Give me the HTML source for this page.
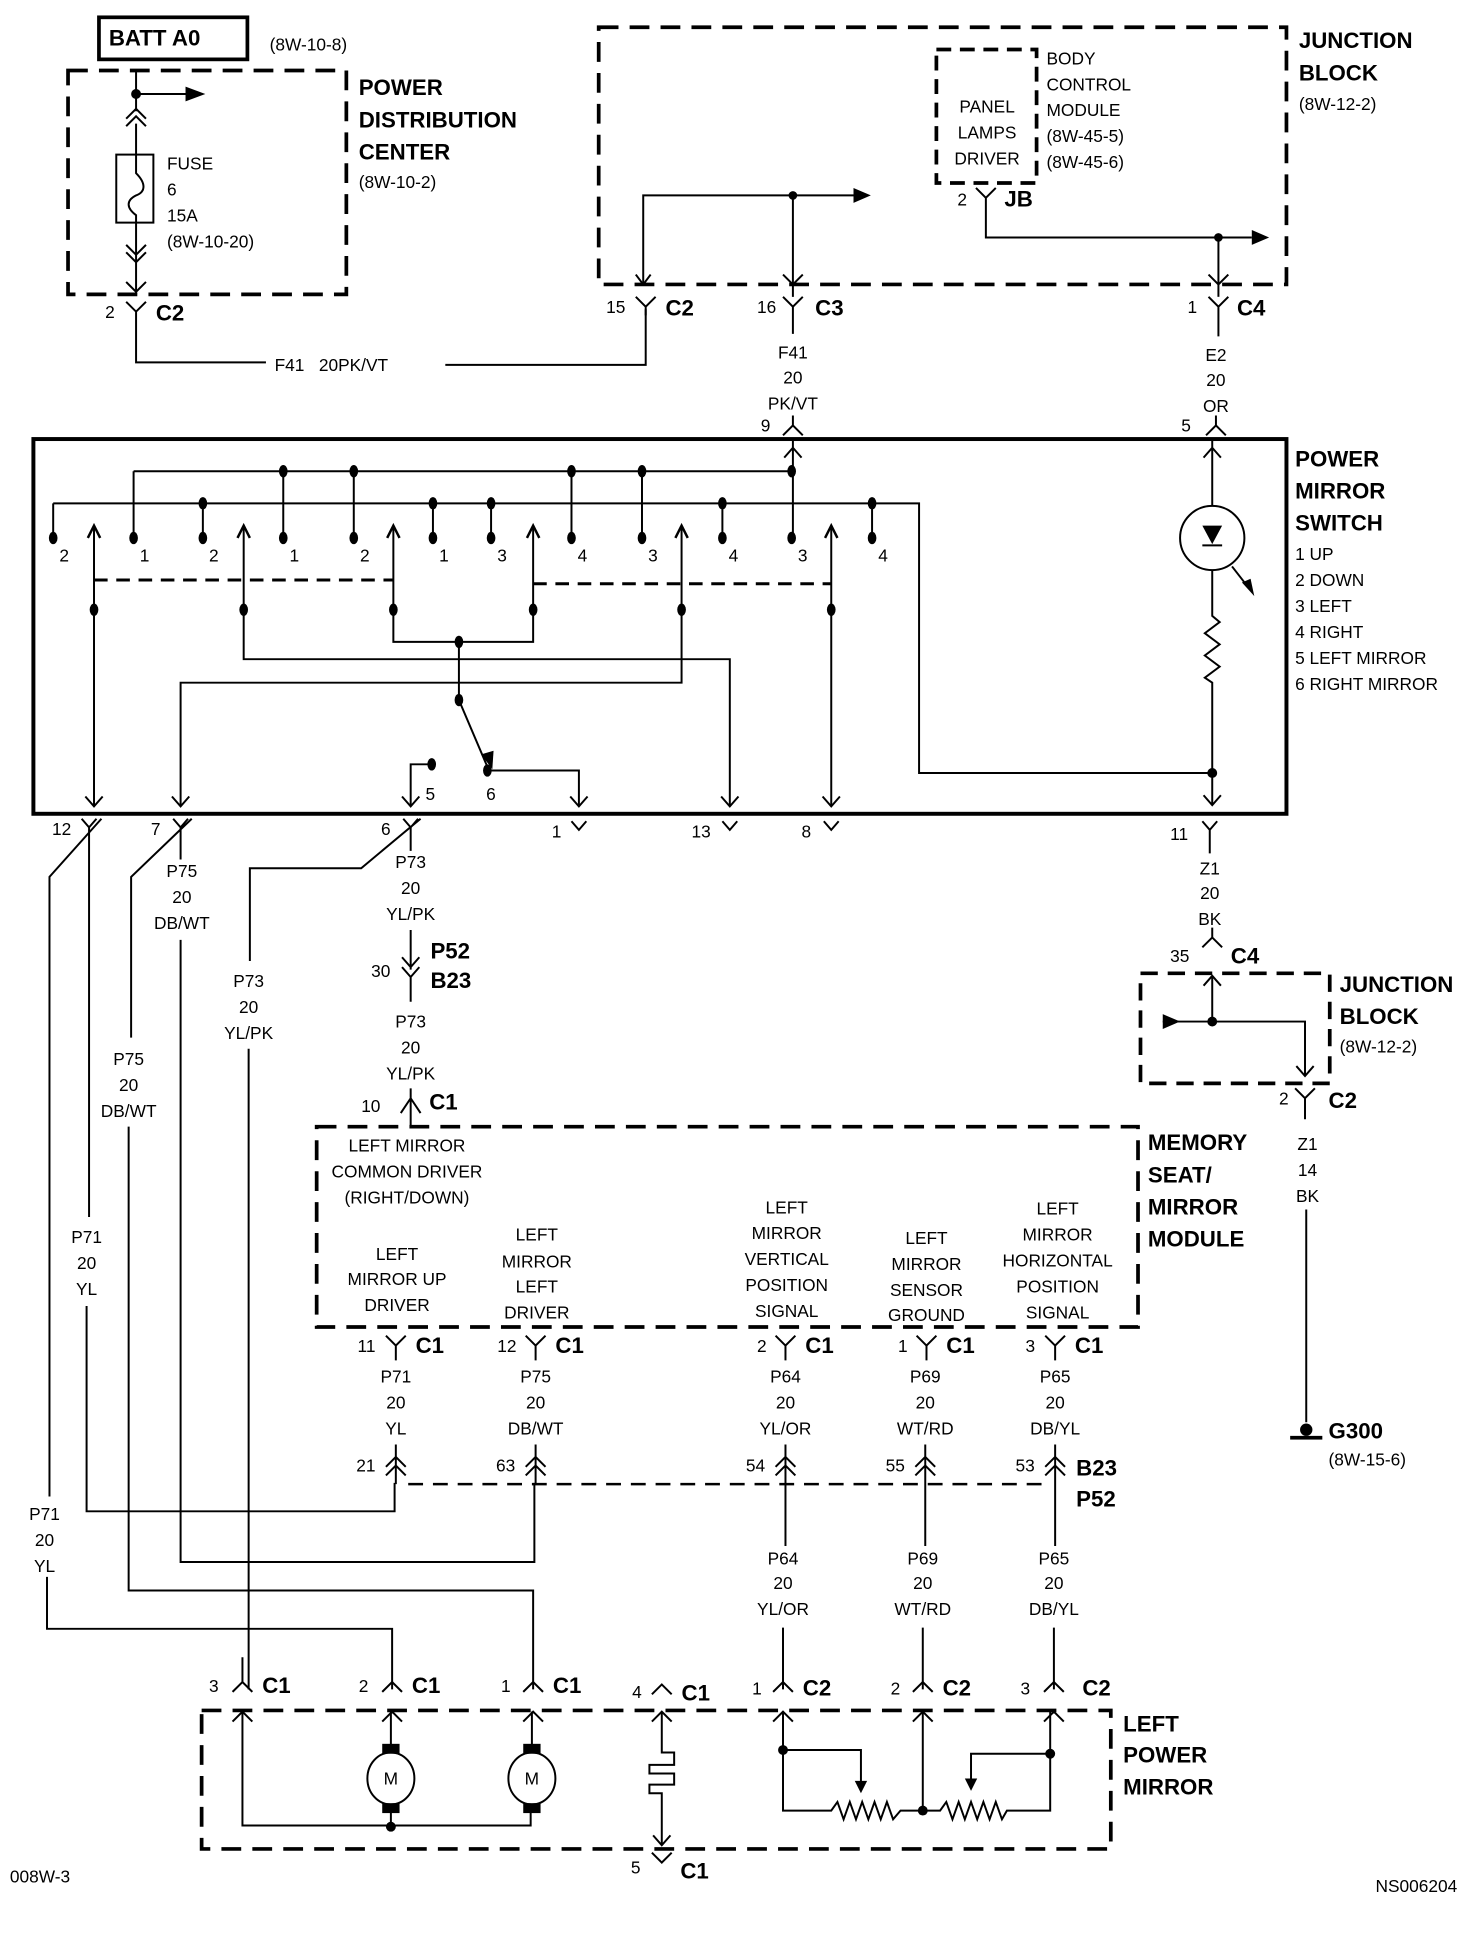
<!DOCTYPE html>
<html><head><meta charset="utf-8"><style>
html,body{margin:0;padding:0;background:#fff}
svg{display:block}
text{font-family:"Liberation Sans Narrow","Liberation Sans",sans-serif;fill:#000}
.n{font-size:15px}
.s{font-size:14px}
.b{font-size:18px;font-weight:bold}
.c{text-anchor:middle}
</style></head><body>
<svg width="1472" height="1938" viewBox="0 0 1190 1567" preserveAspectRatio="none" xmlns="http://www.w3.org/2000/svg">
<g fill="none" stroke="#000" stroke-width="1.6">
<rect x="80" y="14" width="120" height="34" stroke-width="3"/>
<rect x="55" y="57" width="225" height="181" stroke-width="3" stroke-dasharray="16 9"/>
<path d="M110 57 V90 M110 100 V125 M110 180 V238 M110 76 H152"/>
<path d="M102 96 L110 88 L118 96 M102 102 L110 94 L118 102"/>
<rect x="94" y="125" width="30" height="55"/>
<path d="M110 125 V140 C118 148 118 155 110 158 C102 162 102 168 110 174 V180"/>
<path d="M102 198 L110 206 L118 198 M102 204 L110 212 L118 204 M102 228 L110 236 L118 228"/>
<path d="M102 244 L110 252 L118 244 M110 252 V293 H215 M360 295 H522 V250"/>
<rect x="484" y="22" width="556" height="208" stroke-width="3" stroke-dasharray="16 9"/>
<rect x="757" y="40" width="81" height="108" stroke-width="3" stroke-dasharray="12 7"/>
<path d="M789 152 L797 160 L805 152 M797 160 V192 H1012"/>
<path d="M520 230 V158 H690 M641 158 V240"/>
<path d="M985 192 V240"/>
<path d="M514 222 L520 230 L526 222 M633 222 L641 230 L649 222 M977 222 L985 230 L993 222"/>
<path d="M514 240 L522 248 L530 240 M522 248 V255"/>
<path d="M633 240 L641 248 L649 240 M641 248 V270"/>
<path d="M977 240 L985 248 L993 240 M985 248 V272"/>
<path d="M633 352 L641 344 L649 352 M641 344 V336"/>
<path d="M975 352 L983 344 L991 352 M983 344 V336"/>
<rect x="27" y="355" width="1013" height="303" stroke-width="3.2"/>
<path d="M641 355 V435 M634 370 L641 362 L648 370"/>
<path d="M980 355 V409 M973 370 L980 362 L987 370"/>
<circle cx="980" cy="435" r="26"/>
<path d="M972 441 H988 M980 461 V498 L986 503 L974 512 L986 521 L974 530 L986 539 L974 548 L980 552 V650 M973 643 L980 651 L987 643"/>
<path d="M996 458 L1010 476"/>
<path d="M108 381 H640 M43 407 H743 V625 H980"/>
<path d="M108 381 V435 M229 381 V435 M286 381 V435 M462 381 V435 M519 381 V435"/>
<path d="M43 407 V435 M164 407 V435 M350 407 V435 M397 407 V435 M584 407 V435 M705 407 V435"/>
<path d="M76 426 V652 M197 426 V533 H590 V652 M318 426 V519 H431 V426 M371 519 V566 L394 620 M394 623 H468 V652 M349 618 H332 V652 M551 426 V552 H146 V652 M672 426 V652"/>
<path d="M71 435 L76 425 L81 435 M192 435 L197 425 L202 435 M313 435 L318 425 L323 435 M426 435 L431 425 L436 435 M546 435 L551 425 L556 435 M667 435 L672 425 L677 435" stroke-width="2"/>
<path d="M76 469 H318 M431 472 H672" stroke-width="2.4" stroke-dasharray="11 7"/>
<path d="M69 644 L76 652 L83 644 M139 644 L146 652 L153 644 M325 644 L332 652 L339 644 M461 644 L468 652 L475 644 M583 644 L590 652 L597 644 M665 644 L672 652 L679 644"/>
<path d="M66 662 L72 669 L78 662 M72 669 V984 M82 662 L40 709 V1210 M38 1275 V1317 H317 V1366"/>
<path d="M140 662 L146 669 L152 662 M146 669 V695 M146 760 V1263 H432 V1199 M155 662 L106 709 V839 M104 911 V1286 H431 V1366"/>
<path d="M326 662 L332 669 L338 662 M332 669 V688 M340 662 L292 702 H202 V777 M201 848 V1366"/>
<path d="M462 664 L468 671 L474 664 M584 664 L590 671 L596 664 M666 664 L672 671 L678 664"/>
<path d="M972 664 L978 671 L984 664 M978 671 V690"/>
<path d="M70 1056 V1222 H319 V1199"/>
<path d="M332 752 V784 M325 774 L332 782 L339 774 M325 782 L332 790 L339 782 M332 790 V810"/>
<path d="M332 880 V888 M324 900 L332 888 L340 900 M332 888 V911"/>
<rect x="256" y="911" width="664" height="162" stroke-width="3" stroke-dasharray="16 9"/>
<path d="M312 1080 L320 1088 L328 1080 M320 1088 V1100 M425 1080 L433 1088 L441 1080 M433 1088 V1100 M627 1080 L635 1088 L643 1080 M635 1088 V1100 M741 1080 L749 1088 L757 1080 M749 1088 V1100 M845 1080 L853 1088 L861 1080 M853 1088 V1100"/>
<path d="M320 1168 V1200 M312 1186 L320 1178 L328 1186 M312 1193 L320 1185 L328 1193"/>
<path d="M433 1168 V1200 M425 1186 L433 1178 L441 1186 M425 1193 L433 1185 L441 1193"/>
<path d="M635 1168 V1200 M627 1186 L635 1178 L643 1186 M627 1193 L635 1185 L643 1193 M635 1200 V1250"/>
<path d="M748 1168 V1200 M740 1186 L748 1178 L756 1186 M740 1193 L748 1185 L756 1193 M748 1200 V1250"/>
<path d="M853 1168 V1200 M845 1186 L853 1178 L861 1186 M845 1193 L853 1185 L861 1193 M853 1200 V1250"/>
<path d="M330 1200 H850" stroke-width="2" stroke-dasharray="12 8"/>
<path d="M633 1316 V1366 M746 1316 V1366 M852 1316 V1366"/>
<rect x="163" y="1383" width="735" height="112" stroke-width="3" stroke-dasharray="16 9"/>
<path d="M188 1368 L196 1360 L204 1368 M196 1360 V1340 M309 1368 L317 1360 L325 1368 M423 1368 L431 1360 L439 1368 M527 1370 L535 1362 L543 1370 M625 1368 L633 1360 L641 1368 M738 1368 L746 1360 L754 1368 M844 1368 L852 1360 L860 1368"/>
<path d="M188 1392 L196 1384 L204 1392 M309 1392 L317 1384 L325 1392 M423 1392 L431 1384 L439 1392 M527 1392 L535 1384 L543 1392 M625 1392 L633 1384 L641 1392 M738 1392 L746 1384 L754 1392 M844 1392 L852 1384 L860 1392"/>
<path d="M196 1384 V1476 H429 V1464 M316 1384 V1412 M316 1464 V1476 M430 1384 V1412"/>
<ellipse cx="316" cy="1438" rx="19" ry="21"/>
<ellipse cx="430" cy="1438" rx="19" ry="21"/>
<path d="M535 1384 V1417 H545 V1427 H525 V1434 H545 V1443 H525 V1450 H535 V1492 M528 1484 L535 1492 L542 1484"/>
<path d="M527 1498 L535 1506 L543 1498"/>
<path d="M633 1384 V1464 H672 L677 1457 L682 1471 L687 1457 L692 1471 L697 1457 L702 1471 L707 1457 L712 1471 L717 1457 L722 1471 L728 1464 H760 L765 1457 L770 1471 L775 1457 L780 1471 L785 1457 L790 1471 L795 1457 L800 1471 L805 1457 L810 1471 L814 1464 H849 V1384 M746 1384 V1464"/>
<path d="M633 1415 H696 V1447 M849 1418 H785 V1445"/>
<path d="M972 766 L980 758 L988 766 M980 758 V750"/>
<rect x="922" y="787" width="153" height="89" stroke-width="3" stroke-dasharray="14 8"/>
<path d="M980 790 V826 M940 826 H1055 V870 M973 797 L980 789 L987 797 M1048 862 L1055 870 L1062 862"/>
<path d="M1047 880 L1055 888 L1063 880 M1055 888 V905 M1056 978 V1150"/>
</g>
<g fill="#000" stroke="none">
<circle cx="110" cy="76" r="4"/>
<polygon points="150,70 166,76 150,82"/>
<polygon points="690,152 704,158 690,164"/>
<polygon points="1012,186 1026,192 1012,198"/>
<circle cx="641" cy="158" r="3.5"/><circle cx="985" cy="192" r="3.5"/>
<polygon points="972,425 988,425 980,440"/>
<polygon points="1004,471 1014,482 1011,468"/>
<circle cx="980" cy="625" r="4"/>
<g>
<ellipse cx="43" cy="435" rx="3.5" ry="5"/><ellipse cx="108" cy="435" rx="3.5" ry="5"/><ellipse cx="164" cy="435" rx="3.5" ry="5"/><ellipse cx="229" cy="435" rx="3.5" ry="5"/><ellipse cx="286" cy="435" rx="3.5" ry="5"/><ellipse cx="350" cy="435" rx="3.5" ry="5"/><ellipse cx="397" cy="435" rx="3.5" ry="5"/><ellipse cx="462" cy="435" rx="3.5" ry="5"/><ellipse cx="519" cy="435" rx="3.5" ry="5"/><ellipse cx="584" cy="435" rx="3.5" ry="5"/><ellipse cx="640" cy="435" rx="3.5" ry="5"/><ellipse cx="705" cy="435" rx="3.5" ry="5"/>
<ellipse cx="229" cy="381" rx="3.5" ry="5"/><ellipse cx="286" cy="381" rx="3.5" ry="5"/><ellipse cx="462" cy="381" rx="3.5" ry="5"/><ellipse cx="519" cy="381" rx="3.5" ry="5"/><ellipse cx="640" cy="381" rx="3.5" ry="5"/>
<ellipse cx="164" cy="407" rx="3.5" ry="5"/><ellipse cx="350" cy="407" rx="3.5" ry="5"/><ellipse cx="397" cy="407" rx="3.5" ry="5"/><ellipse cx="584" cy="407" rx="3.5" ry="5"/><ellipse cx="705" cy="407" rx="3.5" ry="5"/>
<ellipse cx="76" cy="493" rx="3.5" ry="5"/><ellipse cx="197" cy="493" rx="3.5" ry="5"/><ellipse cx="318" cy="493" rx="3.5" ry="5"/><ellipse cx="431" cy="493" rx="3.5" ry="5"/><ellipse cx="551" cy="493" rx="3.5" ry="5"/><ellipse cx="672" cy="493" rx="3.5" ry="5"/>
<ellipse cx="371" cy="519" rx="3.5" ry="5"/><ellipse cx="371" cy="566" rx="3.5" ry="5"/>
<ellipse cx="394" cy="623" rx="3.5" ry="5"/><ellipse cx="349" cy="618" rx="3.5" ry="5"/>
</g>
<polygon points="389,610 398,622 399,607"/>
<circle cx="316" cy="1477" r="4"/>
<rect x="309" y="1410" width="14" height="8"/><rect x="309" y="1458" width="14" height="8"/>
<rect x="423" y="1410" width="14" height="8"/><rect x="423" y="1458" width="14" height="8"/>
<circle cx="633" cy="1415" r="4"/><circle cx="849" cy="1418" r="4"/><circle cx="746" cy="1464" r="4"/>
<polygon points="691,1440 701,1440 696,1450"/><polygon points="780,1438 790,1438 785,1448"/>
<circle cx="980" cy="826" r="4"/>
<polygon points="940,820 954,826 940,832"/>
<circle cx="1056" cy="1156" r="5"/>
<rect x="1043" y="1161" width="26" height="3"/>
</g>
<text class="b" x="88" y="37">BATT A0</text>
<text class="s" x="218" y="41">(8W-10-8)</text>
<text class="b" x="290" y="77">POWER</text>
<text class="b" x="290" y="103">DISTRIBUTION</text>
<text class="b" x="290" y="129">CENTER</text>
<text class="s" x="290" y="152">(8W-10-2)</text>
<text class="s" x="135" y="137">FUSE</text>
<text class="s" x="135" y="158">6</text>
<text class="s" x="135" y="179">15A</text>
<text class="s" x="135" y="200">(8W-10-20)</text>
<text class="s" x="85" y="257">2</text><text class="b" x="126" y="259">C2</text>
<text class="s" x="222" y="300">F41 &#160; 20PK/VT</text>
<text class="b" x="1050" y="39">JUNCTION</text>
<text class="b" x="1050" y="65">BLOCK</text>
<text class="s" x="1050" y="89">(8W-12-2)</text>
<text class="s c" x="798" y="91">PANEL</text>
<text class="s c" x="798" y="112">LAMPS</text>
<text class="s c" x="798" y="133">DRIVER</text>
<text class="s" x="846" y="52">BODY</text>
<text class="s" x="846" y="73">CONTROL</text>
<text class="s" x="846" y="94">MODULE</text>
<text class="s" x="846" y="115">(8W-45-5)</text>
<text class="s" x="846" y="136">(8W-45-6)</text>
<text class="s" x="774" y="166">2</text><text class="b" x="812" y="167">JB</text>
<text class="s" x="490" y="253">15</text><text class="b" x="538" y="255">C2</text>
<text class="s" x="612" y="253">16</text><text class="b" x="659" y="255">C3</text>
<text class="s" x="960" y="253">1</text><text class="b" x="1000" y="255">C4</text>
<text class="s c" x="641" y="290">F41</text><text class="s c" x="641" y="310">20</text><text class="s c" x="641" y="331">PK/VT</text>
<text class="s" x="615" y="349">9</text>
<text class="s c" x="983" y="292">E2</text><text class="s c" x="983" y="312">20</text><text class="s c" x="983" y="333">OR</text>
<text class="s" x="955" y="349">5</text>
<text class="b" x="1047" y="377">POWER</text>
<text class="b" x="1047" y="403">MIRROR</text>
<text class="b" x="1047" y="429">SWITCH</text>
<text class="s" x="1047" y="453">1 UP</text>
<text class="s" x="1047" y="474">2 DOWN</text>
<text class="s" x="1047" y="495">3 LEFT</text>
<text class="s" x="1047" y="516">4 RIGHT</text>
<text class="s" x="1047" y="537">5 LEFT MIRROR</text>
<text class="s" x="1047" y="558">6 RIGHT MIRROR</text>
<g class="s">
<text x="48" y="454">2</text><text x="113" y="454">1</text><text x="169" y="454">2</text><text x="234" y="454">1</text><text x="291" y="454">2</text><text x="355" y="454">1</text><text x="402" y="454">3</text><text x="467" y="454">4</text><text x="524" y="454">3</text><text x="589" y="454">4</text><text x="645" y="454">3</text><text x="710" y="454">4</text>
<text x="344" y="647">5</text><text x="393" y="647">6</text>
<text x="42" y="675">12</text><text x="122" y="675">7</text><text x="308" y="675">6</text><text x="446" y="677">1</text><text x="559" y="677">13</text><text x="648" y="677">8</text><text x="946" y="679">11</text>
</g>
<g class="s c">
<text x="147" y="709">P75</text><text x="147" y="730">20</text><text x="147" y="751">DB/WT</text>
<text x="332" y="702">P73</text><text x="332" y="723">20</text><text x="332" y="744">YL/PK</text>
<text x="201" y="798">P73</text><text x="201" y="819">20</text><text x="201" y="840">YL/PK</text>
<text x="104" y="861">P75</text><text x="104" y="882">20</text><text x="104" y="903">DB/WT</text>
<text x="332" y="831">P73</text><text x="332" y="852">20</text><text x="332" y="873">YL/PK</text>
<text x="70" y="1005">P71</text><text x="70" y="1026">20</text><text x="70" y="1047">YL</text>
<text x="36" y="1229">P71</text><text x="36" y="1250">20</text><text x="36" y="1271">YL</text>
<text x="978" y="707">Z1</text><text x="978" y="727">20</text><text x="978" y="748">BK</text>
<text x="1057" y="930">Z1</text><text x="1057" y="951">14</text><text x="1057" y="972">BK</text>
</g>
<text class="s" x="300" y="790">30</text>
<text class="b" x="348" y="775">P52</text><text class="b" x="348" y="799">B23</text>
<text class="s" x="292" y="899">10</text><text class="b" x="347" y="897">C1</text>
<text class="s" x="946" y="778">35</text><text class="b" x="995" y="779">C4</text>
<text class="b" x="1083" y="802">JUNCTION</text>
<text class="b" x="1083" y="828">BLOCK</text>
<text class="s" x="1083" y="851">(8W-12-2)</text>
<text class="s" x="1034" y="893">2</text><text class="b" x="1074" y="896">C2</text>
<text class="b" x="928" y="930">MEMORY</text>
<text class="b" x="928" y="956">SEAT/</text>
<text class="b" x="928" y="982">MIRROR</text>
<text class="b" x="928" y="1008">MODULE</text>
<g class="s c">
<text x="329" y="931">LEFT MIRROR</text><text x="329" y="952">COMMON DRIVER</text><text x="329" y="973">(RIGHT/DOWN)</text>
<text x="321" y="1019">LEFT</text><text x="321" y="1039">MIRROR UP</text><text x="321" y="1060">DRIVER</text>
<text x="434" y="1003">LEFT</text><text x="434" y="1025">MIRROR</text><text x="434" y="1045">LEFT</text><text x="434" y="1066">DRIVER</text>
<text x="636" y="981">LEFT</text><text x="636" y="1002">MIRROR</text><text x="636" y="1023">VERTICAL</text><text x="636" y="1044">POSITION</text><text x="636" y="1065">SIGNAL</text>
<text x="749" y="1006">LEFT</text><text x="749" y="1027">MIRROR</text><text x="749" y="1048">SENSOR</text><text x="749" y="1068">GROUND</text>
<text x="855" y="982">LEFT</text><text x="855" y="1003">MIRROR</text><text x="855" y="1024">HORIZONTAL</text><text x="855" y="1045">POSITION</text><text x="855" y="1066">SIGNAL</text>
<text x="320" y="1118">P71</text><text x="320" y="1139">20</text><text x="320" y="1160">YL</text>
<text x="433" y="1118">P75</text><text x="433" y="1139">20</text><text x="433" y="1160">DB/WT</text>
<text x="635" y="1118">P64</text><text x="635" y="1139">20</text><text x="635" y="1160">YL/OR</text>
<text x="748" y="1118">P69</text><text x="748" y="1139">20</text><text x="748" y="1160">WT/RD</text>
<text x="853" y="1118">P65</text><text x="853" y="1139">20</text><text x="853" y="1160">DB/YL</text>
<text x="633" y="1265">P64</text><text x="633" y="1285">20</text><text x="633" y="1306">YL/OR</text>
<text x="746" y="1265">P69</text><text x="746" y="1285">20</text><text x="746" y="1306">WT/RD</text>
<text x="852" y="1265">P65</text><text x="852" y="1285">20</text><text x="852" y="1306">DB/YL</text>
<text x="316" y="1443">M</text><text x="430" y="1443">M</text>
</g>
<g class="s">
<text x="289" y="1093">11</text><text x="402" y="1093">12</text><text x="612" y="1093">2</text><text x="726" y="1093">1</text><text x="829" y="1093">3</text>
<text x="288" y="1190">21</text><text x="401" y="1190">63</text><text x="603" y="1190">54</text><text x="716" y="1190">55</text><text x="821" y="1190">53</text>
<text x="169" y="1368">3</text><text x="290" y="1368">2</text><text x="405" y="1368">1</text><text x="511" y="1373">4</text><text x="608" y="1370">1</text><text x="720" y="1370">2</text><text x="825" y="1370">3</text>
<text x="510" y="1515">5</text>
<text x="8" y="1522">008W-3</text>
<text x="1112" y="1530">NS006204</text>
<text x="1074" y="1185">(8W-15-6)</text>
</g>
<g class="b">
<text x="336" y="1094">C1</text><text x="449" y="1094">C1</text><text x="651" y="1094">C1</text><text x="765" y="1094">C1</text><text x="869" y="1094">C1</text>
<text x="870" y="1193">B23</text><text x="870" y="1218">P52</text>
<text x="212" y="1369">C1</text><text x="333" y="1369">C1</text><text x="447" y="1369">C1</text><text x="551" y="1375">C1</text><text x="649" y="1371">C2</text><text x="762" y="1371">C2</text><text x="875" y="1371">C2</text>
<text x="550" y="1519">C1</text>
<text x="908" y="1400">LEFT</text><text x="908" y="1425">POWER</text><text x="908" y="1451">MIRROR</text>
<text x="1074" y="1163">G300</text>
</g>
</svg>
</body></html>
